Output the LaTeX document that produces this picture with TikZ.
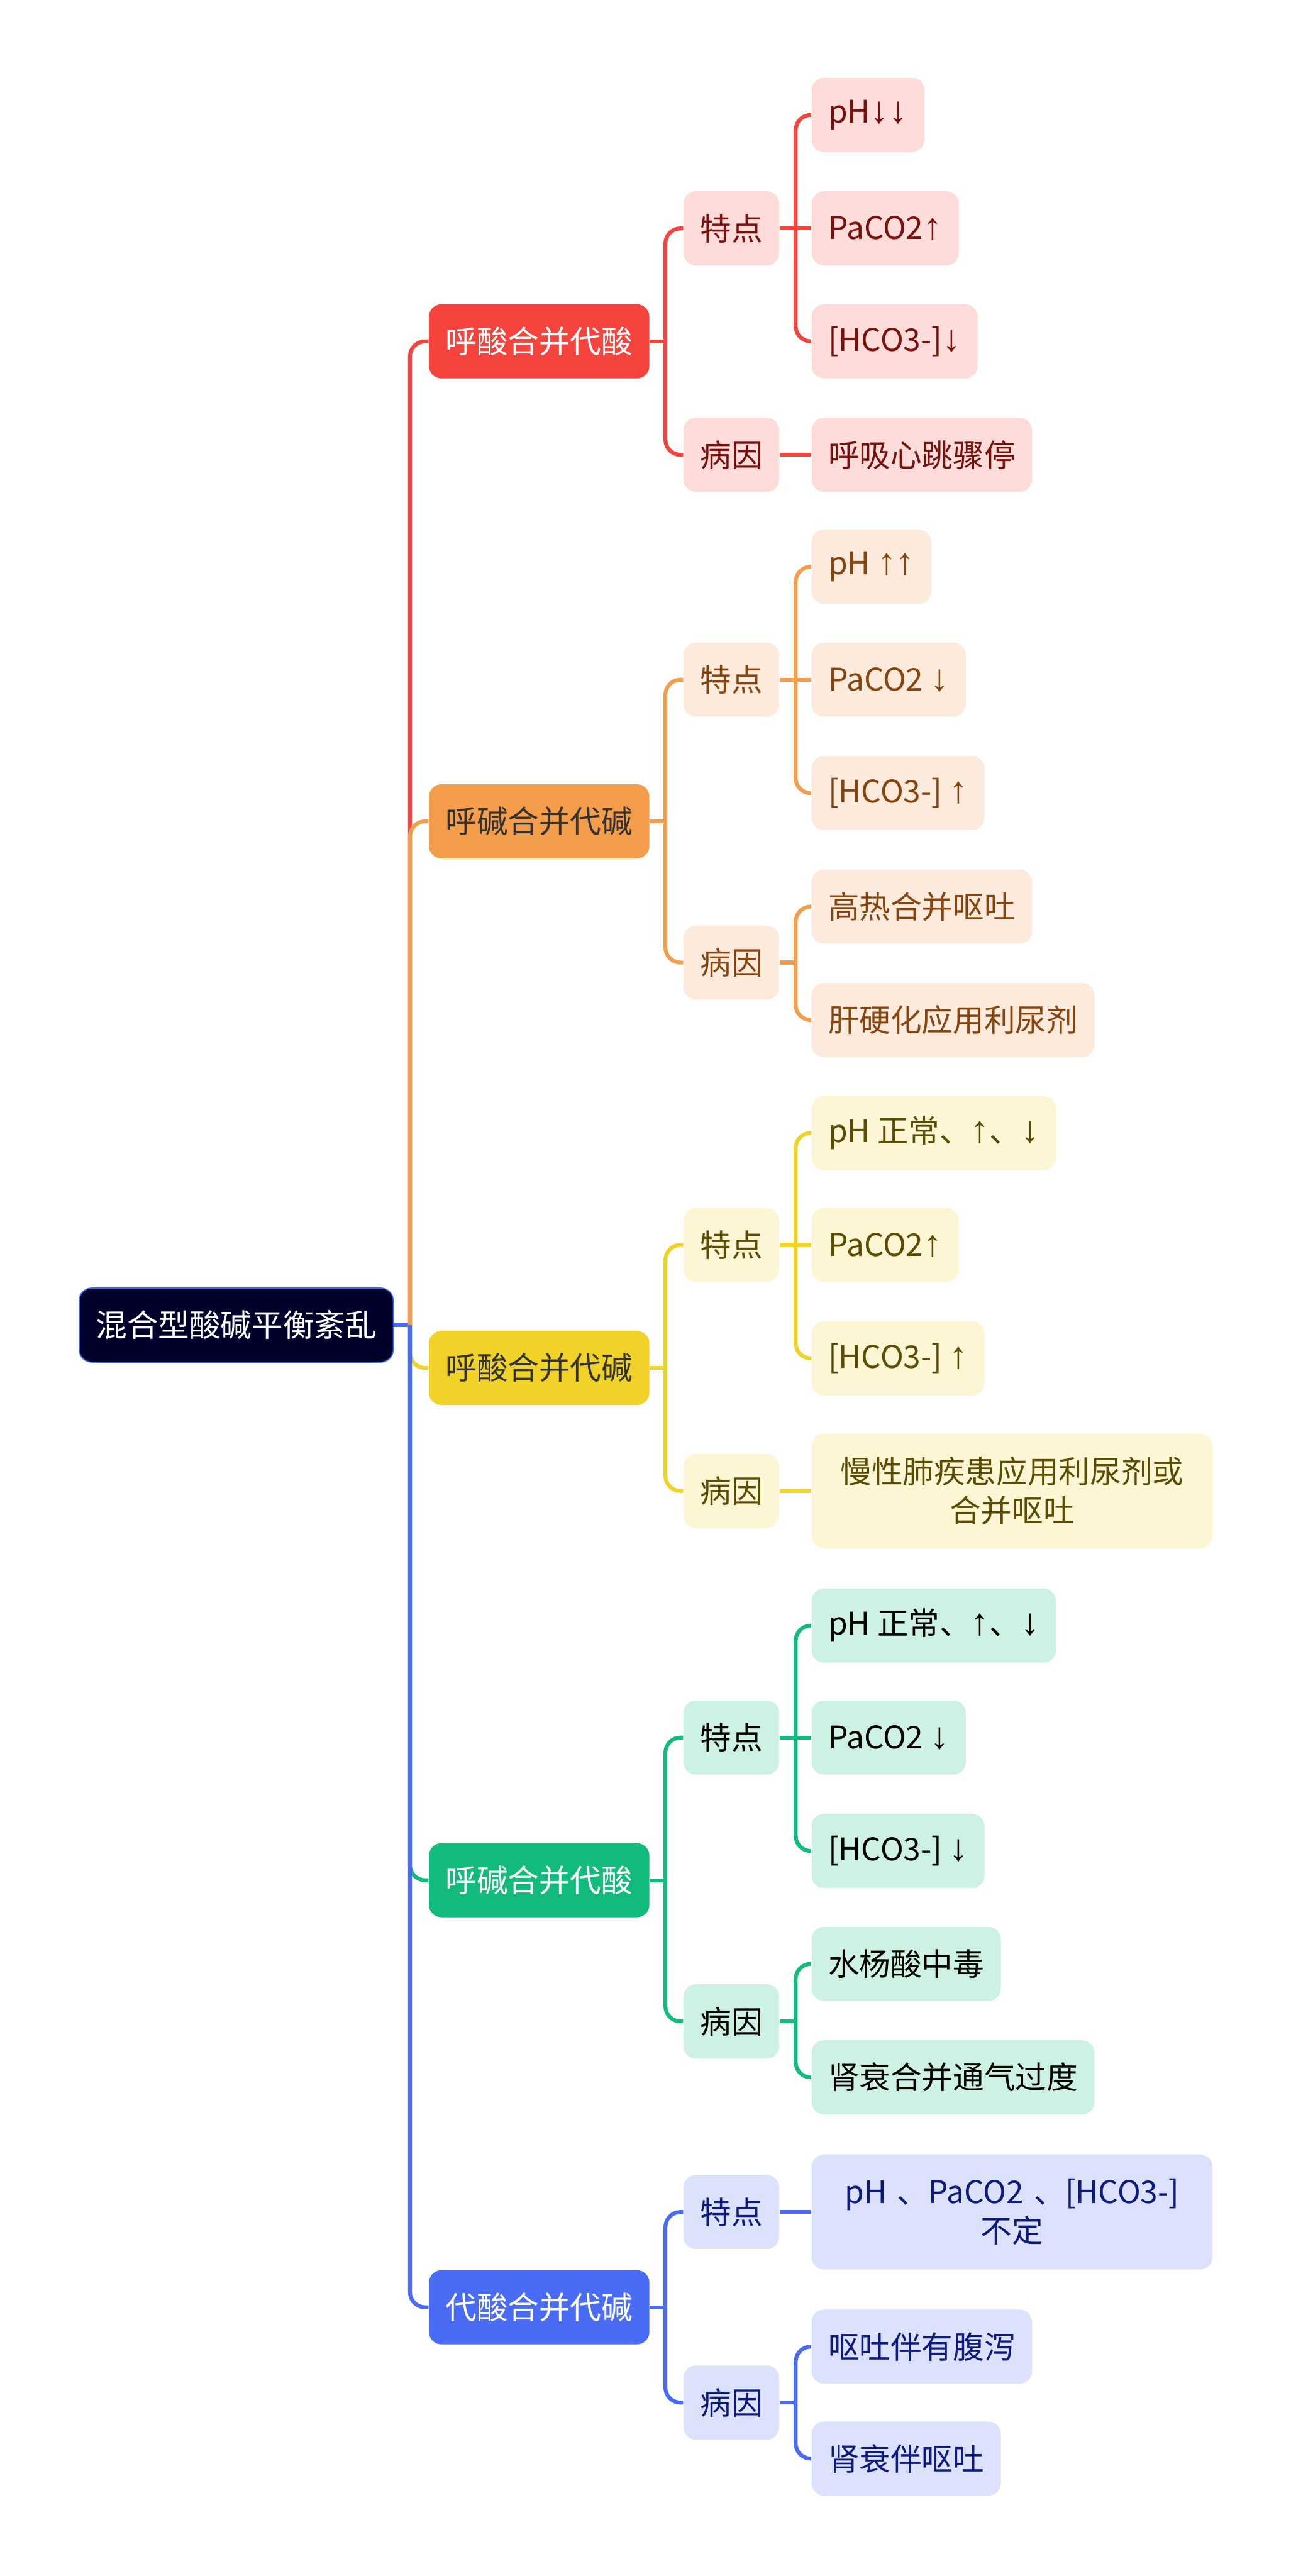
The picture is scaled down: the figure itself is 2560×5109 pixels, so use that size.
\documentclass[tikz,border=0pt]{standalone}
\usepackage{fontspec}
\setmainfont{Noto Sans CJK SC}
\newfontfamily\arwfont[Scale=1.2]{Liberation Sans}
\newcommand{\upar}{{\arwfont ↑}}
\newcommand{\dnar}{{\arwfont ↓}}
% branch colours: main fill / light fill / text on light / text on main
\definecolor{redmain}{HTML}{F5433D}
\definecolor{redlight}{HTML}{FDDCDA}
\definecolor{redink}{HTML}{7A100C}
\definecolor{redtop}{HTML}{FFFFFF}
\definecolor{orangemain}{HTML}{F49E4C}
\definecolor{orangelight}{HTML}{FCEBDC}
\definecolor{orangeink}{HTML}{86450E}
\definecolor{orangetop}{HTML}{333333}
\definecolor{yellowmain}{HTML}{F1D228}
\definecolor{yellowlight}{HTML}{FCF6D5}
\definecolor{yellowink}{HTML}{5A4C00}
\definecolor{yellowtop}{HTML}{333333}
\definecolor{greenmain}{HTML}{12BA7C}
\definecolor{greenlight}{HTML}{CDF2E3}
\definecolor{greenink}{HTML}{000000}
\definecolor{greentop}{HTML}{FFFFFF}
\definecolor{bluemain}{HTML}{4A6CF5}
\definecolor{bluelight}{HTML}{DCE2FB}
\definecolor{blueink}{HTML}{0D1A7E}
\definecolor{bluetop}{HTML}{FFFFFF}
\definecolor{rootfill}{HTML}{00002B}
\definecolor{rootline}{HTML}{3B6CE6}
\tikzset{
  box/.style={rounded corners=0.25cm, minimum height=1.47cm, inner xsep=0.33cm,
    inner ysep=0pt, anchor=west, font=\fontsize{17.6pt}{22pt}\selectfont},
  rootbox/.style={box, fill=rootfill, draw=rootline, line width=0.6pt, text=white},
  topic/.style={box, fill=#1main, text=#1top},
  leaf/.style={box, fill=#1light, text=#1ink},
  wide/.style={leaf=#1, text width=7.29cm, align=center, minimum height=2.28cm},
  link/.style={draw=#1main, line width=2.2pt, rounded corners=0.3cm}
}
\begin{document}
\begin{tikzpicture}[x=0.01cm, y=-0.01cm]
\useasboundingbox[fill=white] (0,0) rectangle (2560,5109);
% root
\node[rootbox] (root) at (156,2628) {混合型酸碱平衡紊乱};
% first level
\node[topic=red]    (r1) at (850,677)  {呼酸合并代酸};
\node[topic=orange] (r2) at (850,1629) {呼碱合并代碱};
\node[topic=yellow] (r3) at (850,2713) {呼酸合并代碱};
\node[topic=green]  (r4) at (850,3729) {呼碱合并代酸};
\node[topic=blue]   (r5) at (850,4576) {代酸合并代碱};
% second level
\node[leaf=red]    (r1a) at (1355,453)  {特点};
\node[leaf=red]    (r1b) at (1355,902)  {病因};
\node[leaf=orange] (r2a) at (1355,1348) {特点};
\node[leaf=orange] (r2b) at (1355,1909) {病因};
\node[leaf=yellow] (r3a) at (1355,2469) {特点};
\node[leaf=yellow] (r3b) at (1355,2957) {病因};
\node[leaf=green]  (r4a) at (1355,3446) {特点};
\node[leaf=green]  (r4b) at (1355,4009) {病因};
\node[leaf=blue]   (r5a) at (1355,4387) {特点};
\node[leaf=blue]   (r5b) at (1355,4765) {病因};
% third level
\node[leaf=red] (r1a1) at (1609,228) {pH\dnar\dnar};
\node[leaf=red] (r1a2) at (1609,453) {PaCO2\upar};
\node[leaf=red] (r1a3) at (1609,677) {[HCO3-]\dnar};
\node[leaf=red] (r1b1) at (1609,902) {呼吸心跳骤停};
\node[leaf=orange] (r2a1) at (1609,1124) {pH \upar\upar};
\node[leaf=orange] (r2a2) at (1609,1348) {PaCO2 \dnar};
\node[leaf=orange] (r2a3) at (1609,1573) {[HCO3-] \upar};
\node[leaf=orange] (r2b1) at (1609,1798) {高热合并呕吐};
\node[leaf=orange] (r2b2) at (1609,2023) {肝硬化应用利尿剂};
\node[leaf=yellow] (r3a1) at (1609,2247) {pH 正常、\upar、\dnar};
\node[leaf=yellow] (r3a2) at (1609,2469) {PaCO2\upar};
\node[leaf=yellow] (r3a3) at (1609,2694) {[HCO3-] \upar};
\node[wide=yellow] (r3b1) at (1609,2957) {慢性肺疾患应用利尿剂或\\合并呕吐};
\node[leaf=green] (r4a1) at (1609,3224) {pH 正常、\upar、\dnar};
\node[leaf=green] (r4a2) at (1609,3446) {PaCO2 \dnar};
\node[leaf=green] (r4a3) at (1609,3671) {[HCO3-] \dnar};
\node[leaf=green] (r4b1) at (1609,3895) {水杨酸中毒};
\node[leaf=green] (r4b2) at (1609,4120) {肾衰合并通气过度};
\node[wide=blue] (r5a1) at (1609,4387) {pH 、PaCO2 、[HCO3-]\\不定};
\node[leaf=blue] (r5b1) at (1609,4654) {呕吐伴有腹泻};
\node[leaf=blue] (r5b2) at (1609,4876) {肾衰伴呕吐};
% connectors, root to first level
\draw[link=blue] (root.east) -- ++(32,0) coordinate (rootj);
\foreach \c/\k in {r1/red, r2/orange, r3/yellow, r4/green, r5/blue}
  \draw[link=\k] (rootj) |- (\c.west);
% connectors, first level to second level
\foreach \p/\k in {r1/red, r2/orange, r3/yellow, r4/green, r5/blue} {
  \draw[link=\k] (\p.east) -- ++(31,0) coordinate (\p j);
  \draw[link=\k] (\p j) |- (\p a.west);
  \draw[link=\k] (\p j) |- (\p b.west);
}
% connectors, second level to third level (bent ones)
\foreach \p/\k/\cs in {r1a/red/{1,3}, r2a/orange/{1,3}, r2b/orange/{1,2},
    r3a/yellow/{1,3}, r4a/green/{1,3}, r4b/green/{1,2}, r5b/blue/{1,2}} {
  \draw[link=\k] (\p.east) -- ++(32,0) coordinate (\p j);
  \foreach \i in \cs
    \draw[link=\k] (\p j) |- (\p\i.west);
}
% straight ones
\foreach \p/\k/\i in {r1a/red/2, r1b/red/1, r2a/orange/2, r3a/yellow/2,
    r3b/yellow/1, r4a/green/2, r5a/blue/1}
  \draw[link=\k] (\p.east) -- (\p\i.west);
\end{tikzpicture}
\end{document}
